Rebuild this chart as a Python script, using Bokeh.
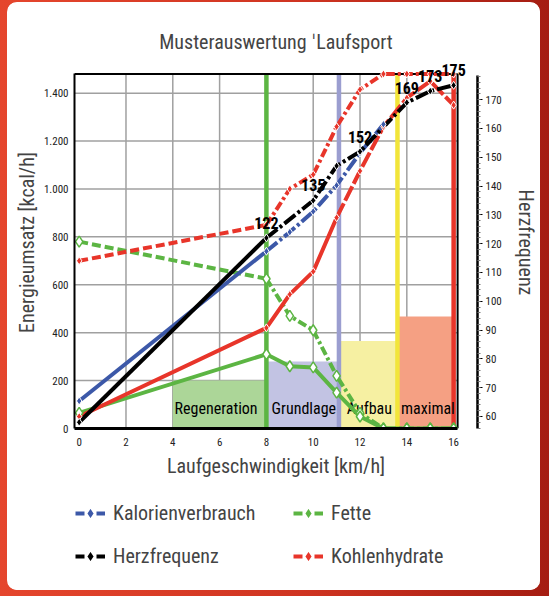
from bokeh.plotting import figure
from bokeh.layouts import column
from bokeh.models import (Range1d, LinearAxis, FixedTicker, Legend, LegendItem,
                          LabelSet, ColumnDataSource, GlobalInlineStyleSheet, Title)
from bokeh.core.properties import value
from bokeh.embed import file_html
from bokeh.resources import INLINE

FONT = "Roboto Condensed, DejaVu Sans Condensed, Liberation Sans Narrow, Roboto, sans-serif"

# ---------------- data ----------------
speed = [0, 8, 9, 10, 11, 12, 13, 14, 15, 16]
kal_speed = [0, 8, 9, 10, 11, 12, 13]
kalorien = [115, 740, 820, 906, 1015, 1150, 1270]
fette = [65, 310, 260, 255, 150, 50, 0, 0, 0, 0]
kohlenhydrate = [50, 420, 560, 655, 880, 1075, 1260, 1380, 1450, 1350]
fette_anteil = [780, 625, 470, 410, 220, 65, 0, 0, 0, 0]
kh_anteil = [700, 850, 1000, 1060, 1260, 1415, 1480, 1480, 1480, 1480]
herz_speed = [0, 8, 10, 11, 12, 14, 15, 16]
herz = [58, 122, 135, 147, 152, 169, 173, 175]
herz_label_speed = [8, 10, 12, 14, 15, 16]
herz_label = [122, 135, 152, 169, 173, 175]

zone_names = ["Regeneration", "Grundlage", "Aufbau", "maximal"]
zone_left = [4, 8, 11.1, 13.6]
zone_right = [8, 11.1, 13.6, 16]
zone_top = [200, 280, 365, 468]
zone_label_x = [5.85, 9.6, 12.4, 14.9]
zone_label_y = [85, 85, 85, 85]
zone_fill = ["#acd698", "#c2c3e3", "#f6f0a2", "#f5a083"]
zone_line = ["#5cb543", "#9b9ed0", "#f2e53a", "#e8352a"]

x_ticks = [0, 2, 4, 6, 8, 10, 12, 14, 16]
y_ticks = [0, 200, 400, 600, 800, 1000, 1200, 1400]
y_tick_labels = ["0", "200", "400", "600", "800", "1.000", "1.200", "1.400"]
hr_ticks = [60, 70, 80, 90, 100, 110, 120, 130, 140, 150, 160, 170]

# chart box (data units)
x_min, x_max = -0.2, 16.17
y_min, y_max = 0, 1480
hr_min, hr_max = 55.83, 178.3

BLUE = "#3c58a8"
GREEN = "#5cb543"
RED = "#e8352a"
BLACK = "#000000"

p = figure(width=533, height=484, output_backend="svg", toolbar_location=None,
           x_range=Range1d(x_min, 17.02), y_range=Range1d(y_min, 1553),
           min_border_left=67, min_border_top=54, min_border_right=59, min_border_bottom=58)
p.background_fill_color = "white"
p.border_fill_color = "white"
p.outline_line_color = None
p.xgrid.visible = False
p.ygrid.visible = False

p.title = Title(text="Musterauswertung ˈLaufsport", align="center", text_font=FONT,
                text_font_size="20px", text_font_style="normal", standoff=5)

# axes
p.xaxis.ticker = FixedTicker(ticks=x_ticks)
p.xaxis.bounds = (x_min, x_max)
p.xaxis.axis_label = "Laufgeschwindigkeit [km/h]"
p.yaxis.ticker = FixedTicker(ticks=y_ticks)
p.yaxis.bounds = (y_min, y_max)
p.yaxis.major_label_overrides = dict(zip(y_ticks, y_tick_labels))
p.yaxis.axis_label = "Energieumsatz [kcal/h]"
for ax in (p.xaxis[0], p.yaxis[0]):
    ax.axis_label_text_font = FONT
    ax.axis_label_text_font_size = "20px"
    ax.axis_label_text_font_style = "normal"
    ax.major_label_text_font = FONT
    ax.major_label_text_font_size = "11px"
    ax.major_label_text_color = "#222222"
    ax.axis_line_color = "black"
    ax.major_tick_line_color = None
    ax.minor_tick_line_color = None
    ax.major_tick_in = 0
    ax.major_tick_out = 3
p.xaxis.axis_line_width = 3
p.yaxis.axis_line_width = 2
p.xaxis.major_label_standoff = 6
p.xaxis.axis_label_standoff = 5
p.yaxis.major_label_standoff = 6
p.yaxis.major_tick_out = 0
p.yaxis.axis_label_standoff = 2

# right axis (Herzfrequenz)
p.extra_y_ranges = {"hr": Range1d(hr_min, 185.0)}
hr_axis = LinearAxis(y_range_name="hr", bounds=(hr_min, hr_max),
                     ticker=FixedTicker(ticks=hr_ticks, minor_ticks=list(range(56, 179, 2))),
                     axis_label="Herzfrequenz", axis_label_text_font=FONT,
                     axis_label_text_font_size="20px", axis_label_text_font_style="normal",
                     major_label_text_font=FONT, major_label_text_font_size="11px",
                     major_label_text_color="#222222",
                     axis_line_width=2.5, major_tick_out=5, major_tick_in=0,
                     minor_tick_out=3, minor_tick_in=0, minor_tick_line_color="#777777",
                     major_label_standoff=3, axis_label_standoff=9)
p.add_layout(hr_axis, "right")

# grid lines inside the chart box
p.segment(x0=x_ticks[1:], y0=y_min, x1=x_ticks[1:], y1=y_max, line_color="#a0a0a0", line_width=1.5)
p.segment(x0=x_min, y0=y_ticks[1:], x1=x_max, y1=y_ticks[1:], line_color="#a0a0a0", line_width=1.5)

# zones
p.quad(left=zone_left, right=zone_right, bottom=0, top=zone_top, fill_color=zone_fill, line_color=None)
p.segment(x0=zone_right, y0=y_min, x1=zone_right, y1=y_max, line_color=zone_line, line_width=4.5)
p.text(x=zone_label_x, y=zone_label_y, text=zone_names, text_font=value(FONT), text_font_size="16px",
       text_align="center", text_baseline="middle", text_color="black")

# box border (top, right)
p.segment(x0=[x_min, x_max], y0=[y_max, y_min], x1=[x_max, x_max], y1=[y_max, y_max],
          line_color="black", line_width=2)


def seg_line(xs, ys, split, c, dash_after, width=4, y_range_name="default", dash_before="solid"):
    p.line(xs[:split + 1], ys[:split + 1], line_color=c, line_width=width, line_dash=dash_before,
           y_range_name=y_range_name)
    p.line(xs[split:], ys[split:], line_color=c, line_width=width, line_dash=dash_after,
           y_range_name=y_range_name)


# percentage (dashed) lines
seg_line(speed, fette_anteil, 1, GREEN, "9 3 3 3", dash_before="9 4")
seg_line(speed, kh_anteil, 1, RED, "9 3 3 3", dash_before="9 4")
# main series
seg_line(speed, fette, 1, GREEN, "solid")
seg_line(speed, kohlenhydrate, 4, RED, "16 3")
seg_line(kal_speed, kalorien, 1, BLUE, "14 3 3 3")
seg_line(herz_speed, herz, 1, BLACK, "14 3 3 3", y_range_name="hr")

# markers
p.scatter(speed, fette_anteil, marker="diamond", size=11, fill_color="white", line_color=GREEN, line_width=1.5)
p.scatter(speed, fette, marker="diamond", size=11, fill_color="white", line_color=GREEN, line_width=1.5)
p.scatter(speed, kh_anteil, marker="diamond", size=8, fill_color=RED, line_color="white", line_width=1)
p.scatter(speed, kohlenhydrate, marker="diamond", size=8, fill_color=RED, line_color="white", line_width=1)
p.scatter(kal_speed, kalorien, marker="diamond", size=8, fill_color=BLUE, line_color="white", line_width=1)
p.scatter(herz_speed, herz, marker="diamond", size=8, fill_color=BLACK, line_color="white", line_width=1,
          y_range_name="hr")

# heart rate labels
lsrc = ColumnDataSource(dict(x=herz_label_speed, y=herz_label, t=[str(v) for v in herz_label]))
p.add_layout(LabelSet(x="x", y="y", text="t", source=lsrc, y_range_name="hr", y_offset=9,
                      text_align="center", text_baseline="bottom", text_font=value(FONT),
                      text_font_size="16px", text_font_style="bold", text_color="black"))

# ---------------- legend strip ----------------
q = figure(width=533, height=104, output_backend="svg", toolbar_location=None,
           x_range=Range1d(0, 1), y_range=Range1d(0, 1), min_border=0,
           x_axis_location=None, y_axis_location=None)
q.grid.visible = False
q.outline_line_color = None
q.background_fill_color = "white"
q.border_fill_color = "white"

nan = float("nan")
leg = {}
for name, c in [("Kalorienverbrauch", BLUE), ("Herzfrequenz", BLACK), ("Fette", GREEN), ("Kohlenhydrate", RED)]:
    r1 = q.line([nan, nan], [nan, nan], line_color=c, line_width=4, line_dash="9 12")
    r2 = q.scatter([nan], [nan], marker="diamond", size=16, fill_color=c, line_color="white", line_width=1.5)
    leg[name] = LegendItem(label=name, renderers=[r1, r2])

for items, loc in [(["Kalorienverbrauch", "Herzfrequenz"], (1, 19)),
                   (["Fette", "Kohlenhydrate"], (219, 19))]:
    lg = Legend(items=[leg[n] for n in items], orientation="vertical", location=loc,
                label_text_font=FONT, label_text_font_size="20px", glyph_width=30, glyph_height=30,
                label_standoff=8, spacing=13, padding=0, margin=0,
                border_line_color=None, background_fill_alpha=0)
    q.add_layout(lg)

layout = column(p, q, spacing=0)
layout.stylesheets = [GlobalInlineStyleSheet(css="html,body{background:linear-gradient(90deg,#e5462d 0%,#cf3421 55%,#a51d12 100%);}")]
layout.styles = {"border-radius": "10px", "overflow": "hidden", "background-color": "white",
                 "margin-left": "7px", "margin-top": "2px", "width": "533px"}

open("out.html", "w").write(file_html(layout, INLINE))
